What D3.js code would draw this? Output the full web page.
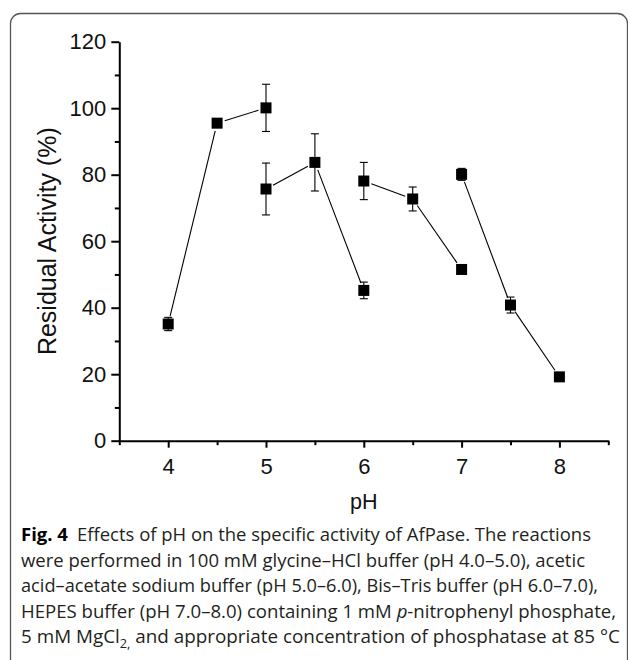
<!DOCTYPE html>
<html>
<head>
<meta charset="utf-8">
<script src="https://cdn.jsdelivr.net/npm/d3@7"></script>
<style>
    body { margin: 0; background: #fff; }
    svg { display: block; }
</style>
</head>
<body>
<div id="chart"></div>
<script>
// one short series per buffer system
const phGlycine = [4.0, 4.5, 5.0];
const actGlycine = [35.1, 95.5, 100.1];
const errGlycine = [2.0, 0, 7.1];

const phAcetate = [5.0, 5.5, 6.0];
const actAcetate = [75.7, 83.7, 45.2];
const errAcetate = [7.8, 8.6, 2.5];

const phBisTris = [6.0, 6.5, 7.0];
const actBisTris = [78.1, 72.7, 51.5];
const errBisTris = [5.6, 3.6, 0];

const phHepes = [7.0, 7.5, 8.0];
const actHepes = [80.1, 40.8, 19.2];
const errHepes = [1.8, 2.4, 0];

const xTicks = [4, 5, 6, 7, 8];
const xMinorTicks = [3.5, 4.5, 5.5, 6.5, 7.5, 8.5];
const yTicks = [0, 20, 40, 60, 80, 100, 120];
const yMinorTicks = [10, 30, 50, 70, 90, 110];

const xTitle = 'pH';
const yTitle = 'Residual Activity (%)';

// caption: each line is a list of [text, kind]
const captionLines = [
    [['Fig. 4', 'bold'], ['\u2002Effects of pH on the specific activity of AfPase. The reactions', '']],
    [['were performed in 100 mM glycine\u2013HCl buffer (pH 4.0\u20135.0), acetic', '']],
    [['acid\u2013acetate sodium buffer (pH 5.0\u20136.0), Bis\u2013Tris buffer (pH 6.0\u20137.0),', '']],
    [['HEPES buffer (pH 7.0\u20138.0) containing 1 mM ', ''], ['p', 'italic'], ['-nitrophenyl phosphate,', '']],
    [['5 mM MgCl', ''], ['2,', 'sub'], [' and appropriate concentration of phosphatase at 85 \u00b0C', '']]
];
const captionWidths = [570, 564, 577, 595, 599];

const series = [
    { ph: phGlycine, act: actGlycine, err: errGlycine },
    { ph: phAcetate, act: actAcetate, err: errAcetate },
    { ph: phBisTris, act: actBisTris, err: errBisTris },
    { ph: phHepes, act: actHepes, err: errHepes }
];

const width = 628;
const height = 660;
const axisFont = '"Liberation Sans", Arial, sans-serif';
const captionFont = '"Open Sans", "Noto Sans", sans-serif';

const svg = d3.select('#chart').append('svg')
    .attr('width', width)
    .attr('height', height);

// rounded frame, runs off the bottom of the picture
svg.append('rect')
    .attr('x', 10.5)
    .attr('y', 13.5)
    .attr('width', 617)
    .attr('height', 720)
    .attr('rx', 10)
    .style('fill', 'none')
    .style('stroke', '#555')
    .style('stroke-width', 1.3);

const x = d3.scaleLinear().domain([3.5, 8.5]).range([119.3, 608.3]);
const y = d3.scaleLinear().domain([0, 120]).range([440.7, 41.7]);

// minor ticks first, then major axis on top
svg.append('g')
    .attr('transform', 'translate(0,' + y(0) + ')')
    .call(d3.axisBottom(x).tickValues(xMinorTicks).tickSize(4.5).tickSizeOuter(0).tickFormat(''))
    .call(g => g.select('.domain').remove())
    .call(g => g.selectAll('line').style('stroke', '#000').style('stroke-width', 2));

svg.append('g')
    .attr('transform', 'translate(' + x(3.5) + ',0)')
    .call(d3.axisLeft(y).tickValues(yMinorTicks).tickSize(4.5).tickSizeOuter(0).tickFormat(''))
    .call(g => g.select('.domain').remove())
    .call(g => g.selectAll('line').style('stroke', '#000').style('stroke-width', 2));

const xAxis = svg.append('g')
    .attr('transform', 'translate(0,' + y(0) + ')')
    .call(d3.axisBottom(x).tickValues(xTicks).tickSize(7).tickSizeOuter(0).tickPadding(11).tickFormat(d3.format('d')));

const yAxis = svg.append('g')
    .attr('transform', 'translate(' + x(3.5) + ',0)')
    .call(d3.axisLeft(y).tickValues(yTicks).tickSize(8).tickSizeOuter(0).tickPadding(5).tickFormat(d3.format('d')));

[xAxis, yAxis].forEach(g => {
    g.select('.domain').style('stroke', '#000').style('stroke-width', 2);
    g.selectAll('line').style('stroke', '#000').style('stroke-width', 2);
    g.selectAll('text')
        .style('font-family', axisFont)
        .style('font-size', '22px')
        .style('fill', '#111');
});

// axis titles
svg.append('text')
    .attr('x', x(6))
    .attr('y', 509)
    .attr('text-anchor', 'middle')
    .style('font-family', axisFont)
    .style('font-size', '21.5px')
    .style('fill', '#111')
    .text(xTitle);

svg.append('text')
    .attr('transform', 'translate(56,' + y(60) + ') rotate(-90)')
    .attr('text-anchor', 'middle')
    .style('font-family', axisFont)
    .style('font-size', '25px')
    .style('fill', '#111')
    .text(yTitle);

// data
const plot = svg.append('g');
const gap = 8;

series.forEach(s => {
    const pts = s.ph.map((p, i) => ({ px: x(p), py: y(s.act[i]), v: s.act[i], e: s.err[i] }));

    // connecting lines stop short of the markers
    for (let i = 0; i < pts.length - 1; i++) {
        const a = pts[i];
        const b = pts[i + 1];
        const dx = b.px - a.px;
        const dy = b.py - a.py;
        const len = Math.sqrt(dx * dx + dy * dy);
        const ux = dx / len;
        const uy = dy / len;
        plot.append('line')
            .attr('x1', a.px + ux * gap)
            .attr('y1', a.py + uy * gap)
            .attr('x2', b.px - ux * gap)
            .attr('y2', b.py - uy * gap)
            .style('stroke', '#000')
            .style('stroke-width', 1.1);
    }

    // error bars
    pts.filter(p => p.e > 0).forEach(p => {
        const top = y(p.v + p.e);
        const bot = y(p.v - p.e);
        plot.append('line')
            .attr('x1', p.px).attr('x2', p.px)
            .attr('y1', top).attr('y2', bot)
            .style('stroke', '#000').style('stroke-width', 1.1);
        [top, bot].forEach(cy => {
            plot.append('line')
                .attr('x1', p.px - 4).attr('x2', p.px + 4)
                .attr('y1', cy).attr('y2', cy)
                .style('stroke', '#000').style('stroke-width', 1.1);
        });
    });

    // square markers
    plot.selectAll(null)
        .data(pts)
        .enter()
        .append('rect')
        .attr('x', d => d.px - 5.5)
        .attr('y', d => d.py - 5.5)
        .attr('width', 11)
        .attr('height', 11)
        .style('fill', '#000');
});

// caption
const caption = svg.append('g')
    .style('font-family', captionFont)
    .style('font-size', '18.5px')
    .style('fill', '#231f20');

captionLines.forEach((line, i) => {
    const t = caption.append('text')
        .attr('x', 21)
        .attr('y', 541 + i * 25.6)
        .attr('textLength', captionWidths[i])
        .attr('lengthAdjust', 'spacingAndGlyphs');
    line.forEach(seg => {
        const ts = t.append('tspan').text(seg[0]);
        if (seg[1] === 'bold') {
            ts.style('font-weight', 'bold').style('fill', '#000');
        } else if (seg[1] === 'italic') {
            ts.style('font-style', 'italic');
        } else if (seg[1] === 'sub') {
            ts.attr('dy', 5).style('font-size', '12.5px');
        }
    });
    // put the text after a subscript back on the baseline
    t.selectAll('tspan').each(function (d, j, nodes) {
        if (j > 0 && line[j - 1][1] === 'sub') {
            d3.select(this).attr('dy', -5);
        }
    });
});
</script>
</body>
</html>
